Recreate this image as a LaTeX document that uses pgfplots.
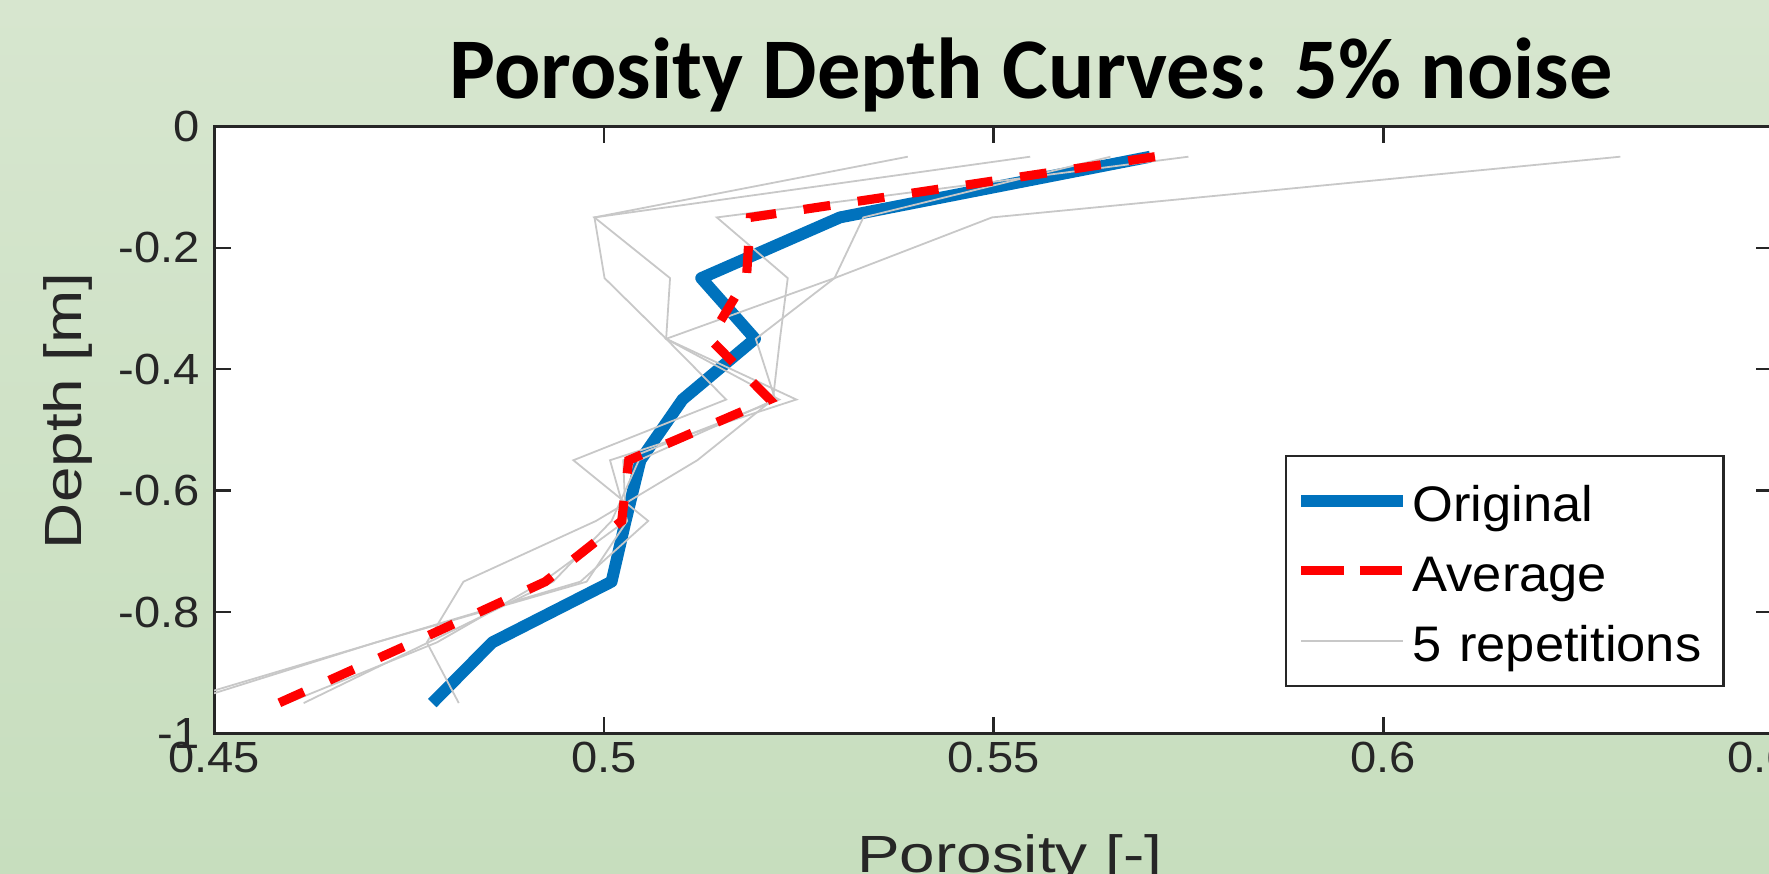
\documentclass[border=0pt]{standalone}
\usepackage{graphicx}
\usepackage{pgfplots}
\pgfplotsset{compat=1.18}
\usepackage{pgfplotstable}
\usepackage{fontspec}
\setmainfont{Liberation Sans}
\newfontfamily\titlefont{Carlito}

\definecolor{bgtop}{RGB}{215,230,207}
\definecolor{bgbot}{RGB}{199,222,190}
\definecolor{axcol}{RGB}{38,38,38}
\definecolor{origblue}{RGB}{0,114,189}
\definecolor{repgray}{RGB}{200,200,200}

% widened sans text, as set by the plotting program
\newcommand{\wide}[1]{\scalebox{1.22}[1]{#1}}
\newcommand{\tickw}[1]{\scalebox{1.08}[1]{#1}}
\newcommand{\legw}[1]{\scalebox{1.05}[1]{#1}}

% porosity profiles: original, average and five noisy repetitions (A-E)
\pgfplotstableread{
depth  orig    avg     A       B       C       D       E
-0.05  0.5701  0.5707  0.5390  0.5547  0.5750  0.5650  0.6304
-0.15  0.5303  0.5188  0.4988  0.4988  0.5145  0.5333  0.5498
-0.25  0.5125  0.5183  0.5001  0.5085  0.5236  0.5296  0.5296
-0.35  0.5194  0.5136  0.5080  0.5080  0.5226  0.5195  0.5080
-0.45  0.5101  0.5213  0.5157  0.5247  0.5217  0.5220  0.5225
-0.55  0.5047  0.5032  0.4961  0.5008  0.5120  0.5045  0.5025
-0.65  0.5028  0.5023  0.5057  0.5030  0.4990  0.5010  0.5028
-0.75  0.5010  0.4925  0.4970  0.4978  0.4820  0.4935  0.4922
-0.85  0.4857  0.4756  0.4708  0.4708  0.4773  0.4775  0.4786
-0.95  0.4780  0.4583  0.4446  0.4460  0.4814  0.4615  0.4594
}\curves

\begin{document}
\begin{tikzpicture}[x=1cm,y=1cm]
\useasboundingbox (0,0) rectangle (15.68,7.74);
\begin{scope}
\clip (0,0) rectangle (15.68,7.74);
\shade[top color=bgtop, bottom color=bgbot] (0,0) rectangle (15.68,7.74);
\node[anchor=base, inner sep=0pt, font=\titlefont\bfseries\fontsize{21.8}{26}\selectfont]
  at (9.14,6.87) {Porosity Depth Curves: 5\% noise};
\begin{axis}[
  at={(1.897cm,1.239cm)}, anchor=south west, scale only axis,
  width=13.819cm, height=5.381cm,
  xmin=0.45, xmax=0.65, ymin=-1, ymax=0,
  xtick={0.45,0.5,0.55,0.6,0.65},
  xticklabels={\tickw{0.45},\tickw{0.5},\tickw{0.55},\tickw{0.6},\tickw{0.65}},
  ytick={-1,-0.8,-0.6,-0.4,-0.2,0},
  yticklabels={\tickw{-1},\tickw{-0.8},\tickw{-0.6},\tickw{-0.4},\tickw{-0.2},\tickw{0}},
  tick align=inside, tick pos=both, xticklabel pos=lower, yticklabel pos=left,
  major tick length=0.15cm,
  axis line style={axcol, line width=0.75pt},
  every tick/.style={axcol, line width=0.6pt},
  axis background/.style={fill=white},
  xticklabel style={font=\fontsize{11}{13}\selectfont, text=axcol,
    anchor=north, inner sep=0pt, yshift=-0.07cm},
  yticklabel style={font=\fontsize{11}{13}\selectfont, text=axcol,
    anchor=east, inner sep=0pt, xshift=-0.12cm},
  xlabel={\wide{Porosity [-]}}, ylabel={\wide{Depth [m]}},
  xlabel style={font=\fontsize{13.2}{16}\selectfont, text=axcol,
    at={(axis description cs:0.5104,-0.2286)}, anchor=base, inner sep=0pt},
  ylabel style={font=\fontsize{13.2}{16}\selectfont, text=axcol,
    at={(axis description cs:-0.0852,0.5317)}, anchor=base, inner sep=0pt},
  legend image code/.code={\draw[#1] (0cm,0cm) -- (0.9cm,0cm);},
  legend cell align=left,
  legend style={at={(axis description cs:0.687,0.4592)}, anchor=north west,
    draw=axcol, line width=0.6pt, fill=white,
    inner xsep=0.08cm, inner ysep=0.16cm, row sep=0.15cm,
    font=\fontsize{12.6}{15}\selectfont,
    nodes={inner sep=0pt},
    /tikz/every odd column/.append style={column sep=0.035cm},
    /tikz/every even column/.append style={text width=2.675cm, text height=0.42cm, text depth=0.06cm}},
]
\addlegendimage{origblue, line width=3pt}
\addlegendentry{\legw{Original}}
\addlegendimage{legend image code/.code={\draw[red, line width=2.3pt, dash pattern=on 10.7pt off 4.1pt] (0cm,0cm) -- (0.9cm,0cm);}}
\addlegendentry{\legw{Average}}
\addlegendimage{repgray, line width=0.6pt}
\addlegendentry{\legw{5 repetitions}}

\addplot[forget plot, origblue, line width=3pt, line join=round] table[x=orig, y=depth] {\curves};
\addplot[forget plot, repgray, line width=0.45pt] table[x=A, y=depth] {\curves};
\addplot[forget plot, repgray, line width=0.45pt] table[x=B, y=depth] {\curves};
\addplot[forget plot, repgray, line width=0.45pt] table[x=C, y=depth] {\curves};
\addplot[forget plot, repgray, line width=0.45pt] table[x=D, y=depth] {\curves};
\addplot[forget plot, repgray, line width=0.45pt] table[x=E, y=depth] {\curves};
\addplot[forget plot, red, line width=2.3pt, dash pattern=on 6.8pt off 7pt] table[x=avg, y=depth] {\curves};
\end{axis}
\end{scope}
\end{tikzpicture}
\end{document}
